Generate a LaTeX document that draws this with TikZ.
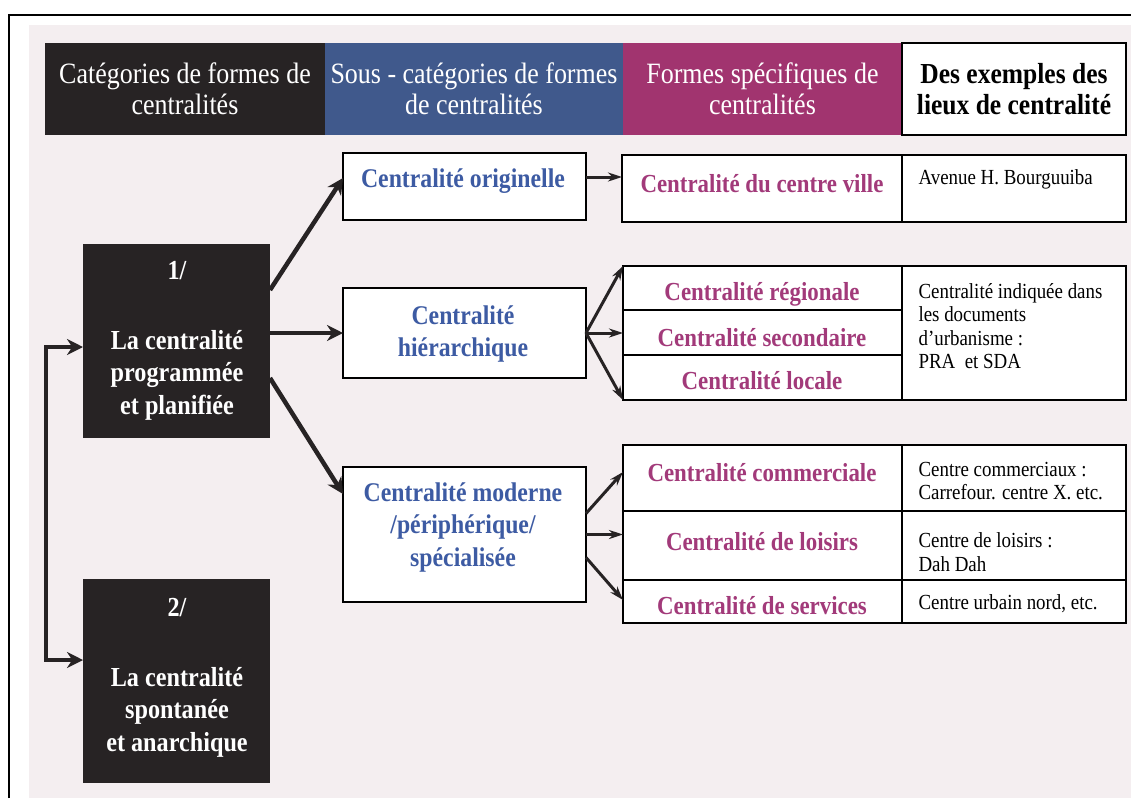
\documentclass[tikz,border=0pt]{standalone}
\usepackage{fontspec}
\setmainfont[FakeStretch=0.88]{Liberation Serif}
\usetikzlibrary{arrows.meta}
\definecolor{bgpink}{HTML}{F4EEF0}
\definecolor{dark}{HTML}{272324}
\definecolor{hblue}{HTML}{40598C}
\definecolor{hmag}{HTML}{A1346F}
\definecolor{tblue}{HTML}{3D5BA3}
\definecolor{tmag}{HTML}{A23A7A}
\begin{document}
\begin{tikzpicture}[x=1pt,y=-1pt,
  box/.style={anchor=north west, inner sep=0pt, outer sep=0pt},
  cell/.style={box, draw=black, line width=1.3pt, fill=white},
  hdr/.style={box, align=center, text=white, font=\fontsize{29.5}{31}\selectfont},
  darkbox/.style={box, fill=dark},
  wtxt/.style={align=center, text=white, font=\bfseries\fontsize{27.5}{32.5}\selectfont},
  btxt/.style={align=center, text=tblue, font=\bfseries\fontsize{27}{32.5}\selectfont},
  mtxt/.style={align=center, text=tmag, font=\bfseries\fontsize{26}{28}\selectfont},
  etxt/.style={anchor=west, align=left, text=black, font=\fontsize{21.5}{23.5}\selectfont},
  bigarrow/.style={line width=4.5pt, draw=dark, -{Stealth[length=16pt,width=16pt]}},
  smallarrow/.style={line width=3pt, draw=dark, -{Stealth[length=14pt,width=9pt]}}
]
\useasboundingbox (0,0) rectangle (1131,798);
\fill[white] (0,0) rectangle (1131,798);
\fill[bgpink] (29,25) rectangle (1131,798);
\draw[line width=2pt] (9,798) -- (9,15) -- (1131,15);

% header
\node[hdr, fill=dark, minimum width=280pt, minimum height=92pt] (h1) at (45,43) {Catégories de formes de\\centralités};
\node[hdr, fill=hblue, minimum width=298pt, minimum height=92pt] (h2) at (325,43) {Sous - catégories de formes\\de centralités};
\node[hdr, fill=hmag, minimum width=279pt, minimum height=92pt] (h3) at (623,43) {Formes spécifiques de\\centralités};
\node[cell, align=center, font=\bfseries\fontsize{29}{31}\selectfont, minimum width=224pt, minimum height=92pt] (h4) at (902,43) {Des exemples des\\lieux de centralité};

% dark category boxes
\node[darkbox, minimum width=187pt, minimum height=194pt] (b1) at (83,244) {};
\node[wtxt] (b1t) at (177,341) {1/\\[37pt]La centralité\\programmée\\et planifiée};
\node[darkbox, minimum width=187pt, minimum height=204pt] (b2) at (83,579) {};
\node[wtxt] (b2t) at (177,678) {2/\\[37pt]La centralité\\spontanée\\et anarchique};

% sub-category boxes
\node[cell, minimum width=243pt, minimum height=67pt] (orig) at (343,153) {};
\node[btxt] (origt) at (463,181) {Centralité originelle};
\node[cell, minimum width=243pt, minimum height=90pt] (hier) at (343,288) {};
\node[btxt] (hiert) at (463,334) {Centralité\\hiérarchique};
\node[cell, minimum width=243pt, minimum height=135pt] (mod) at (343,467) {};
\node[btxt] (modt) at (463,527) {Centralité moderne\\/périphérique/\\spécialisée};

% specific forms, group 1
\node[cell, minimum width=280pt, minimum height=67pt] (f1) at (622,155) {};
\node[mtxt] (f1t) at (762,184) {Centralité du centre ville};
\node[cell, minimum width=224pt, minimum height=67pt] (e1) at (902,155) {};
\node[etxt] (e1t) at (915,179) {Avenue H. Bourguuiba};

% group 2
\node[cell, minimum width=279pt, minimum height=44pt] (f2) at (623,266) {};
\node[cell, minimum width=279pt, minimum height=45pt] (f3) at (623,310) {};
\node[cell, minimum width=279pt, minimum height=45pt] (f4) at (623,355) {};
\node[mtxt] (f2t) at (762,294) {Centralité régionale};
\node[mtxt] (f3t) at (762,338) {Centralité secondaire};
\node[mtxt] (f4t) at (762,381) {Centralité locale};
\node[cell, minimum width=224pt, minimum height=134pt] (e2) at (902,266) {};
\node[etxt] (e2t) at (915,326) {Centralité indiquée dans\\les documents\\d’urbanisme :\\PRA~ et SDA};

% group 3
\node[cell, minimum width=279pt, minimum height=66pt] (f5) at (623,445) {};
\node[cell, minimum width=279pt, minimum height=69pt] (f6) at (623,511) {};
\node[cell, minimum width=279pt, minimum height=43pt] (f7) at (623,580) {};
\node[mtxt] (f5t) at (762,473) {Centralité commerciale};
\node[mtxt] (f6t) at (762,542) {Centralité de loisirs};
\node[mtxt] (f7t) at (762,606) {Centralité de services};
\node[cell, minimum width=224pt, minimum height=66pt] (e5) at (902,445) {};
\node[cell, minimum width=224pt, minimum height=69pt] (e6) at (902,511) {};
\node[cell, minimum width=224pt, minimum height=43pt] (e7) at (902,580) {};
\node[etxt] (e5t) at (915,481) {Centre commerciaux :\\Carrefour. centre X. etc.};
\node[etxt] (e6t) at (915,552) {Centre de loisirs :\\Dah Dah};
\node[etxt] (e7t) at (915,604) {Centre urbain nord, etc.};

% arrows from category 1
\draw[bigarrow] ([yshift=-46pt]b1.north east) -- ([yshift=-25pt]orig.north west);
\draw[bigarrow] (b1.east |- hier.west) -- (hier.west);
\draw[bigarrow] ([yshift=-134pt]b1.north east) -- ([yshift=-27pt]mod.north west);

% left double connector
\draw[line width=4.5pt, draw=dark, {Stealth[length=16pt,width=16pt]}-{Stealth[length=16pt,width=16pt]}]
  ([yshift=-6pt]b1.west) -- ++(-37,0) |- ([yshift=21pt]b2.west);

% small arrows
\draw[smallarrow] ([yshift=-24pt]orig.north east) -- ([yshift=-22pt]f1.north west);
\draw[smallarrow] (hier.east) -- (f2.north west);
\draw[smallarrow] (hier.east) -- (hier.east -| f3.west);
\draw[smallarrow] (hier.east) -- (f4.south west);
\draw[smallarrow] ([yshift=21pt]mod.east) -- ([yshift=-27pt]f5.north west);
\draw[smallarrow] (mod.east) -- (mod.east -| f6.west);
\draw[smallarrow] ([yshift=-23pt]mod.east) -- ([yshift=-20pt]f7.north west);
\end{tikzpicture}
\end{document}
